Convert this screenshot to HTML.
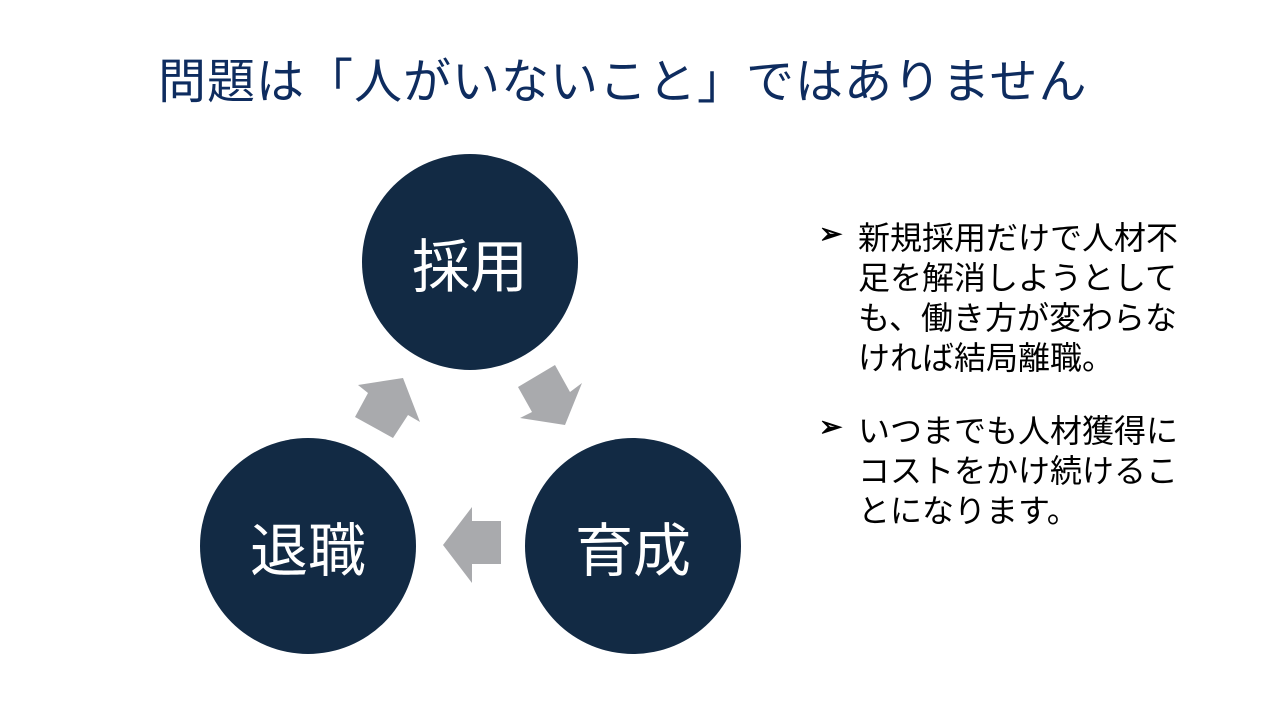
<!DOCTYPE html>
<html><head><meta charset="utf-8"><style>
body{margin:0;width:1280px;height:720px;background:#fff;position:relative;overflow:hidden;font-family:"Liberation Sans","Noto Sans CJK JP",sans-serif}
.t{position:absolute;left:158px;top:42px;font-size:48px;color:#0e2c5f;white-space:nowrap;letter-spacing:1px}
.c{position:absolute;border-radius:50%;background:#122a44;color:#fff;font-size:58px;display:flex;align-items:center;justify-content:center}
.b{position:absolute;left:858px;font-size:32px;line-height:40px;letter-spacing:0;color:#000;white-space:nowrap}
.m{position:absolute;left:819px;font-size:28px;font-weight:bold}
</style></head><body>
<div class="t">問題は「人がいないこと」ではありません</div>
<div class="c" style="left:362px;top:154px;width:216px;height:216px">採用</div>
<div class="c" style="left:200px;top:438px;width:216px;height:216px">退職</div>
<div class="c" style="left:525px;top:438px;width:216px;height:216px">育成</div>
<svg width="1280" height="720" style="position:absolute;left:0;top:0">
<g fill="#a9aaad">
<polygon points="443,545 472,507 472,521 501,521 501,564 472,564 472,583"/>
<polygon points="358,385 403,378 420,422 408,415 393,438 355,417 368,393"/>
<polygon points="518,387 555,365 570,392 582,383 565,425 520,418 532,412"/>
</g></svg>
<div class="m" style="top:217px">➢</div>
<div class="b" style="top:218px">新規採用だけで人材不<br>足を解消しようとして<br>も、働き方が変わらな<br>ければ結局離職。</div>
<div class="m" style="top:410px">➢</div>
<div class="b" style="top:411px">いつまでも人材獲得に<br>コストをかけ続けるこ<br>とになります。</div>
</body></html>
